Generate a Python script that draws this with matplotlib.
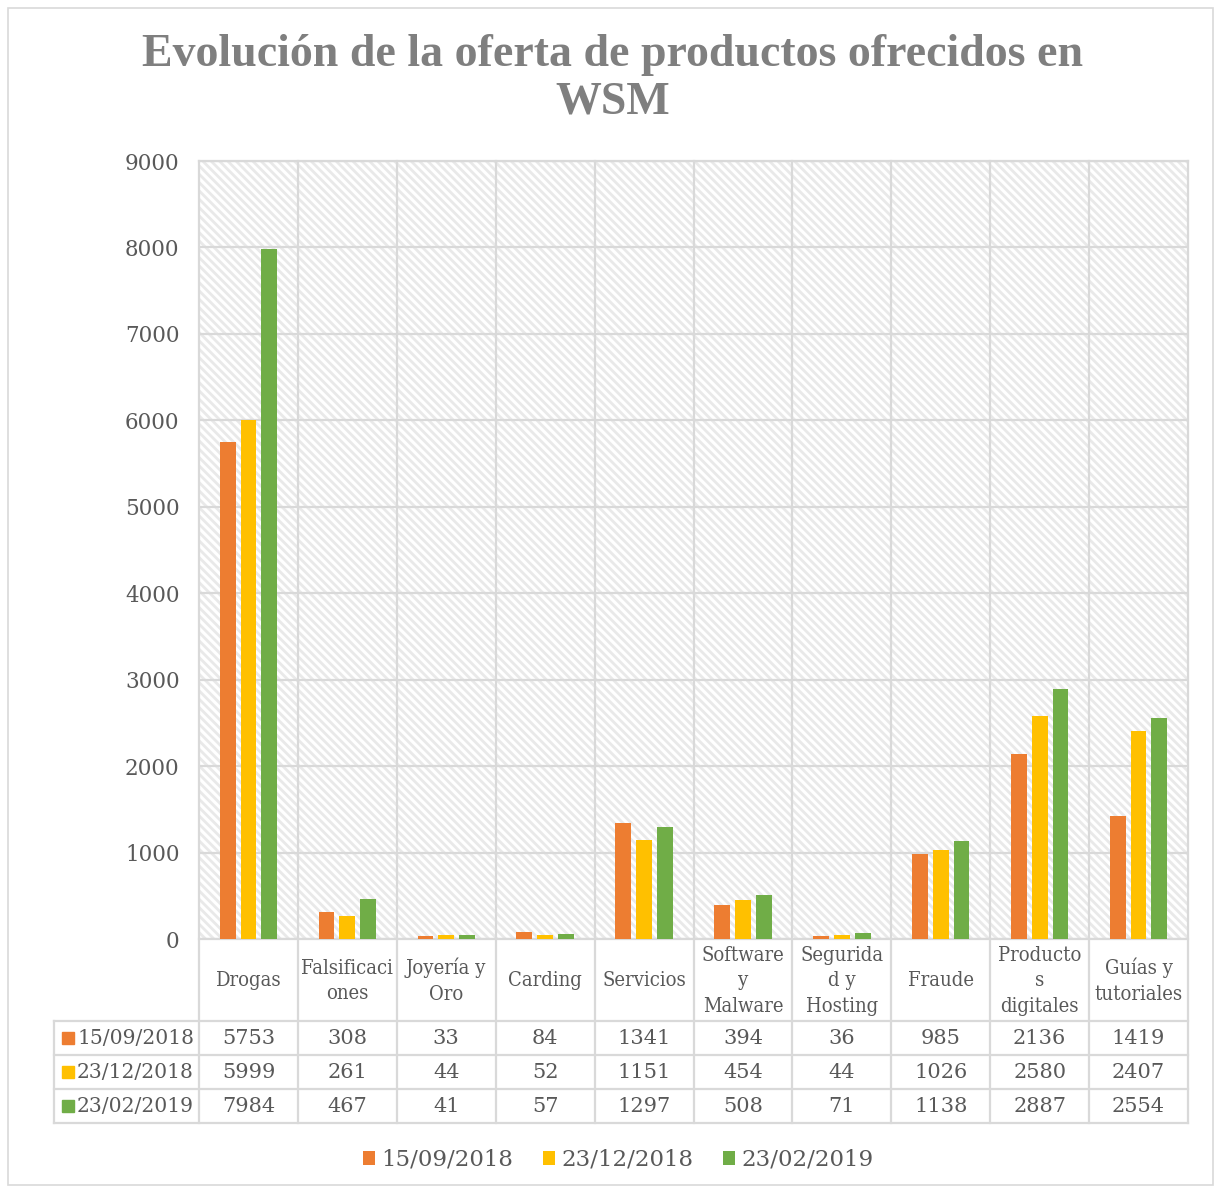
import numpy as np
import matplotlib
matplotlib.use("Agg")
import matplotlib.pyplot as plt
from matplotlib.patches import Rectangle, Patch
from matplotlib.lines import Line2D

categories = ["Drogas", "Falsificaci\nones", "Joyería y\nOro", "Carding", "Servicios",
              "Software\ny\nMalware", "Segurida\nd y\nHosting", "Fraude",
              "Producto\ns\ndigitales", "Guías y\ntutoriales"]
series_names = ["15/09/2018", "23/12/2018", "23/02/2019"]
s_sep18 = [5753, 308, 33, 84, 1341, 394, 36, 985, 2136, 1419]
s_dec18 = [5999, 261, 44, 52, 1151, 454, 44, 1026, 2580, 2407]
s_feb19 = [7984, 467, 41, 57, 1297, 508, 71, 1138, 2887, 2554]
colors = ["#ED7D31", "#FFC000", "#70AD47"]
yticks = [0, 1000, 2000, 3000, 4000, 5000, 6000, 7000, 8000, 9000]

TXT = "#595959"
GRID = "#d9d9d9"
W, H = 1222, 1193
plt.rcParams["font.family"] = ["DejaVu Serif"]
plt.rcParams["hatch.linewidth"] = 2.0

fig = plt.figure(figsize=(W / 100, H / 100), dpi=100)
fig.patches.append(Rectangle((8 / W, 8 / H), (1213 - 8) / W, (1185 - 8) / H,
                             transform=fig.transFigure, fill=False,
                             edgecolor=GRID, lw=1.2))

L, R, T, B = 199, 1188, 161, 939
ax = fig.add_axes([L / W, 1 - B / H, (R - L) / W, (B - T) / H])
ax.set_xlim(-0.5, 9.5)
ax.set_ylim(0, 9000)
for s in ax.spines.values():
    s.set_visible(False)

# hatched plot area
ax.add_patch(Rectangle((0, 0), 1, 1, transform=ax.transAxes, facecolor="white",
                       edgecolor="#e9e9e9", hatch="\\\\\\\\", lw=0, zorder=0))

x = np.arange(len(categories))
all_series = [s_sep18, s_dec18, s_feb19]
for k, (vals, c) in enumerate(zip(all_series, colors)):
    ax.bar(x + (k - 1) * 0.21, vals, width=0.16, color=c, zorder=3)

ax.set_xticks([])
ax.set_yticks(yticks)
ax.tick_params(axis="y", length=0, pad=14, labelsize=15.5, labelcolor=TXT)
for v in yticks:
    ax.axhline(v, color=GRID, lw=1.6, zorder=1)

# table geometry (axes fraction)
def fy(py):
    return (B - py) / (B - T)

def fx(px):
    return (px - L) / (R - L)

row_edges = [939, 1021, 1055, 1089, 1123]
line_kw = dict(color=GRID, lw=1.6, transform=ax.transAxes, clip_on=False, zorder=1)
for i in range(len(categories) + 1):
    ax.add_line(Line2D([i / 10, i / 10], [1, fy(1123)], **line_kw))
ax.add_line(Line2D([0, 1], [1, 1], **line_kw))
ax.add_line(Line2D([0, 1], [0, 0], **line_kw))
for py in row_edges[1:]:
    ax.add_line(Line2D([fx(54), 1], [fy(py), fy(py)], **line_kw))
ax.add_line(Line2D([fx(54), fx(54)], [fy(1021), fy(1123)], **line_kw))

for i, cat in enumerate(categories):
    ax.text((i + 0.5) / 10, fy(981), cat, transform=ax.transAxes, ha="center",
            va="center", fontsize=14.5, fontstretch="condensed", color=TXT,
            linespacing=1.45)

for r, (name, vals, c) in enumerate(zip(series_names, all_series, colors)):
    yc = fy((row_edges[r + 1] + row_edges[r + 2]) / 2)
    ax.add_patch(Rectangle((fx(62), yc - 6 / (B - T)), 12 / (R - L), 12 / (B - T),
                           transform=ax.transAxes, color=c, clip_on=False))
    ax.text(fx(77), yc, name, transform=ax.transAxes, ha="left", va="center",
            fontsize=14.6, color=TXT)
    for i, v in enumerate(vals):
        ax.text((i + 0.5) / 10, yc, str(v), transform=ax.transAxes, ha="center",
                va="center", fontsize=15, color=TXT)

title_kw = dict(ha="center", va="center", fontsize=33, fontweight="bold",
                family="Liberation Serif", color="#7f7f7f")
fig.text(613 / W, 1 - 55 / H, "Evolución de la oferta de productos ofrecidos en", **title_kw)
fig.text(613 / W, 1 - 103 / H, "WSM", **title_kw)

handles = [Patch(facecolor=c) for c in colors]
fig.legend(handles, series_names, loc="center", bbox_to_anchor=(618 / W, 1 - 1160 / H),
           ncol=3, frameon=False, fontsize=16.5, labelcolor=TXT,
           handlelength=0.55, handleheight=0.55, handletextpad=0.25,
           columnspacing=1.3)

fig.savefig("out.png", dpi=100)
